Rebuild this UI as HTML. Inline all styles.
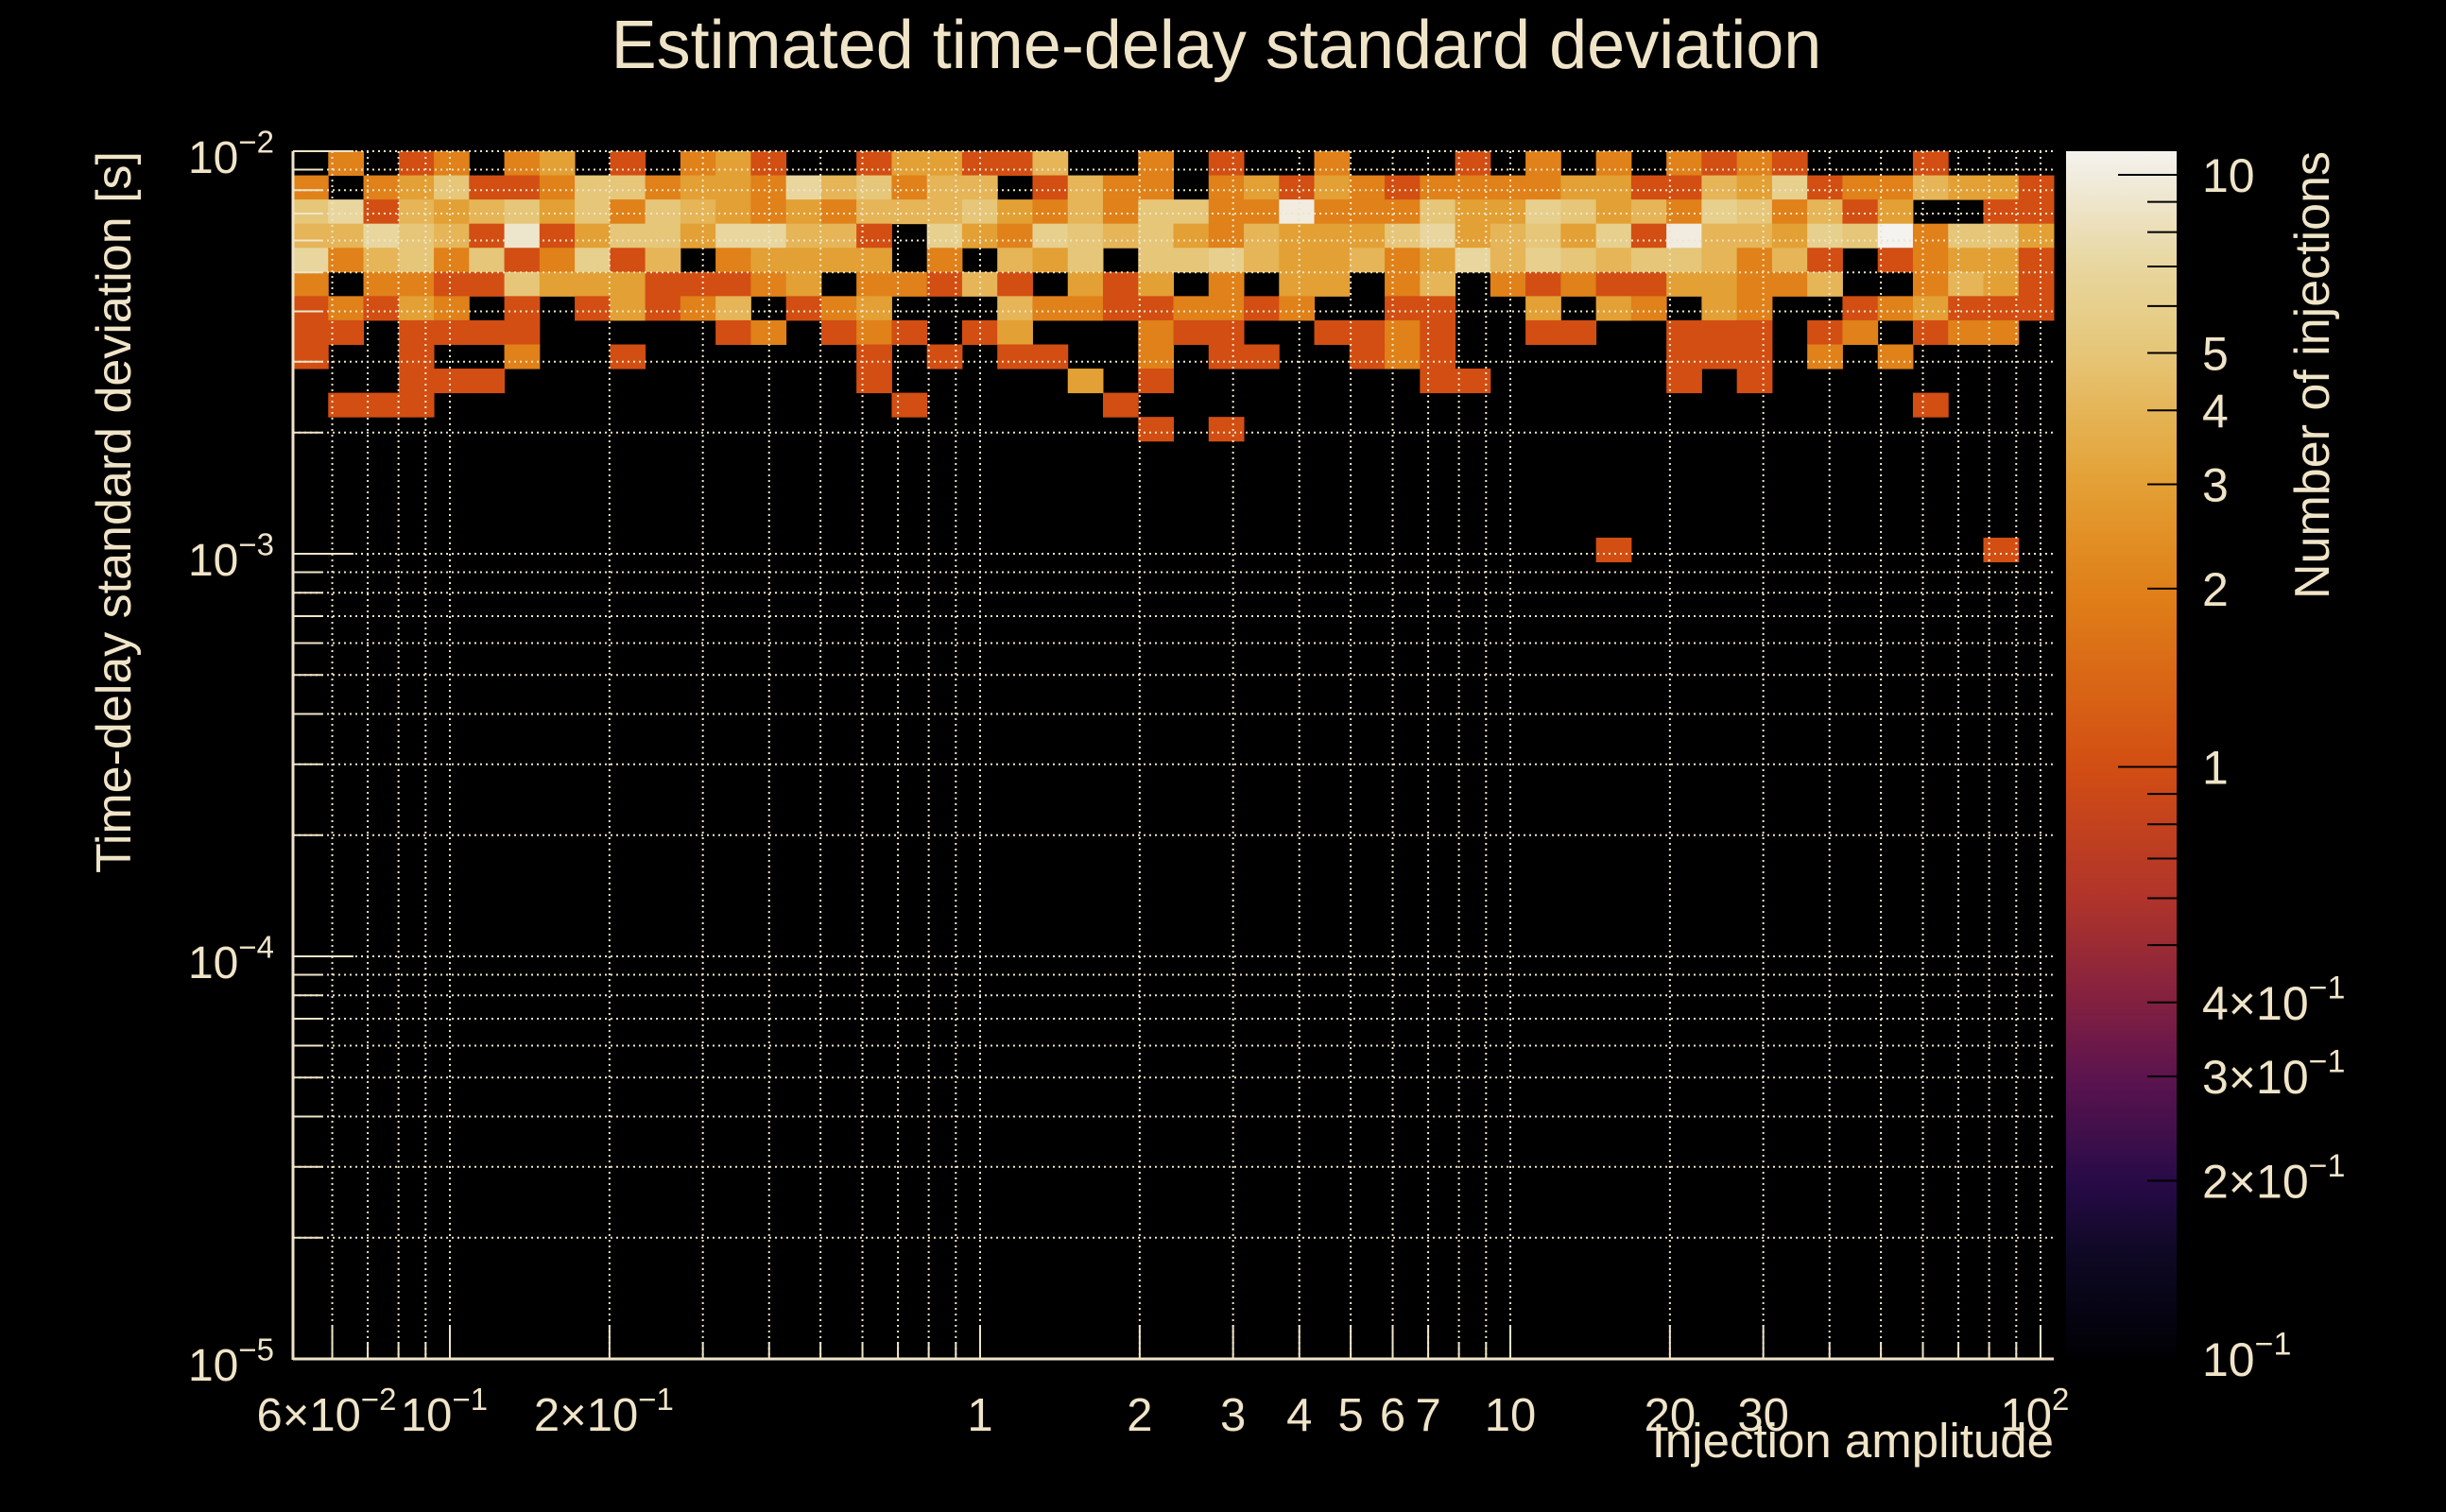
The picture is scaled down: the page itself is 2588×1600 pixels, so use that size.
<!DOCTYPE html>
<html>
<head>
<meta charset="utf-8">
<style>
  html,body{margin:0;padding:0;background:#000;}
  svg{display:block;}
  text{font-family:"Liberation Sans",sans-serif;fill:#f0e4c8;}
</style>
</head>
<body>
<svg id="chart" width="2588" height="1600" viewBox="0 0 2588 1600" xmlns="http://www.w3.org/2000/svg">
  <rect x="0" y="0" width="2588" height="1600" fill="#000"/>
  <defs>
    <linearGradient id="cbgrad" x1="0" y1="1" x2="0" y2="0"></linearGradient>
  </defs>
  <g id="cells"></g>
  <g id="grid"></g>
  <g id="axes"></g>
  <g id="colorbar"></g>
  <text x="1287" y="72" font-size="72" text-anchor="middle">Estimated time-delay standard deviation</text>
  <text transform="translate(138,160) rotate(-90)" font-size="52" text-anchor="end">Time-delay standard deviation [s]</text>
  <text x="2173" y="1542" font-size="51" text-anchor="end">Injection amplitude</text>
  <text transform="translate(2464,160) rotate(-90)" font-size="52" text-anchor="end">Number of injections</text>
</svg>
<script>
// ---- data ----
const nXBins = 50;
const nYBins = 50;
const xLogMin = -1.2959;
const xLogMax = 2.0250;
const yLogMin = -5;
const yLogMax = -2;
// counts per column (index = amplitude bin), listed from top row (row 0 = largest delay)
const col00=[0,2,5,4,7,2,1,1,1];
const col01=[2,0,7,4,2,0,2,1,0,0,1];
const col02=[0,2,1,7,4,2,1,0,0,0,1];
const col03=[1,3,4,5,5,2,3,1,1,1,1];
const col04=[2,5,3,4,2,1,2,1,0,1];
const col05=[0,1,4,1,5,1,0,1,0,1];
const col06=[2,1,5,9,1,5,1,1,2];
const col07=[3,2,3,1,2,3];
const col08=[0,5,5,3,6,3,1];
const col09=[1,5,2,5,1,3,3,0,1];
const col10=[0,2,5,5,4,1,1];
const col11=[2,3,4,3,0,1,2];
const col12=[3,3,3,7,2,1,4,1];
const col13=[1,2,2,7,3,2,0,2];
const col14=[0,7,3,4,3,3,1];
const col15=[0,4,2,4,3,0,2,1];
const col16=[1,5,4,1,3,2,3,2,1,1];
const col17=[3,2,4,0,0,2,0,1,0,0,1];
const col18=[3,4,4,6,2,1,0,0,1];
const col19=[1,4,5,3,0,4,0,1];
const col20=[1,0,3,2,4,1,4,3,1];
const col21=[4,1,2,6,3,0,2,0,1];
const col22=[0,4,4,5,5,3,2,0,0,3];
const col23=[0,2,2,4,0,1,1,0,0,0,1];
const col24=[2,2,5,5,5,3,1,2,2,1,0,1];
const col25=[0,0,5,3,5,0,2,1];
const col26=[1,2,2,2,6,2,2,1,1,0,0,1];
const col27=[0,3,2,4,4,0,1,0,1];
const col28=[0,1,10,3,3,3,2];
const col29=[2,3,2,3,3,3,0,1];
const col30=[0,2,2,3,4,0,0,1,1];
const col31=[0,1,2,5,2,2,1,2,2];
const col32=[0,2,5,7,3,4,1,1,1,1];
const col33=[1,2,3,3,7,0,0,0,0,1];
const col34=[0,2,3,4,4,2];
const col35=[2,2,6,5,6,1,3,1];
const col36=[0,3,5,3,5,2,0,1];
const col37=[2,3,3,6,4,1,3,0,0,0,0,0,0,0,0,0,1];
const col38=[0,1,4,1,5,1,2];
const col39=[2,1,2,10,5,3,0,1,1,1];
const col40=[1,4,6,4,4,3,3,1,1];
const col41=[2,3,5,4,2,2,2,1,1,1];
const col42=[1,6,2,3,4,2];
const col43=[0,1,4,6,1,4,0,1,2];
const col44=[0,2,1,5,0,0,1,2];
const col45=[0,2,3,11,1,0,2,0,2];
const col46=[1,4,0,2,2,2,3,1,0,0,1];
const col47=[0,3,0,5,3,4,1,2];
const col48=[0,3,1,5,3,3,1,2,0,0,0,0,0,0,0,0,1];
const col49=[0,1,1,3,1,1,1];
const columns=[col00,col01,col02,col03,col04,col05,col06,col07,col08,col09,col10,col11,col12,col13,col14,col15,col16,col17,col18,col19,col20,col21,col22,col23,col24,col25,col26,col27,col28,col29,col30,col31,col32,col33,col34,col35,col36,col37,col38,col39,col40,col41,col42,col43,col44,col45,col46,col47,col48,col49];
const xTickValues=[0.06,0.1,0.2,1,2,3,4,5,6,7,10,20,30,100];
const xTickLabels=[["6×10","−2"],["10","−1"],["2×10","−1"],["1",""],["2",""],["3",""],["4",""],["5",""],["6",""],["7",""],["10",""],["20",""],["30",""],["10","2"]];
const yTickExps=[-2,-3,-4,-5];
const cbTickValues=[10,5,4,3,2,1,0.4,0.3,0.2,0.1];
const cbTickLabels=[["10",""],["5",""],["4",""],["3",""],["2",""],["1",""],["4×10","−1"],["3×10","−1"],["2×10","−1"],["10","−1"]];
const cbMin=0.1, cbMax=10.96;

// ---- geometry ----
const PL=310, PR=2173, PT=160, PB=1438;
const NS="http://www.w3.org/2000/svg";
function xPos(v){return PL+(Math.log10(v)-xLogMin)/(xLogMax-xLogMin)*(PR-PL);}
function yPos(v){return PB-(Math.log10(v)-yLogMin)/(yLogMax-yLogMin)*(PB-PT);}
const CB_L=2186, CB_R=2303;
function cbY(v){return PB-(Math.log10(v)-Math.log10(cbMin))/(Math.log10(cbMax)-Math.log10(cbMin))*(PB-PT);}

const stops=[[0.1,[0,0,4]],[0.15,[14,8,36]],[0.2,[40,11,72]],[0.3,[92,20,78]],[0.4,[130,32,64]],[0.6,[176,52,42]],[1,[210,78,19]],[2,[224,129,25]],[3,[227,160,52]],[4,[229,181,87]],[5,[230,198,120]],[7,[232,214,158]],[10,[241,236,223]],[11,[245,243,239]]];
function color(v){
  const lv=Math.log10(v);
  for(let i=0;i<stops.length-1;i++){
    const a=Math.log10(stops[i][0]), b=Math.log10(stops[i+1][0]);
    if(lv<=b||i===stops.length-2){
      let t=Math.max(0,Math.min(1,(lv-a)/(b-a)));
      const c=stops[i][1].map((x,k)=>Math.round(x+(stops[i+1][1][k]-x)*t));
      return "rgb("+c.join(",")+")";
    }
  }
}
function mk(tag,attrs,parent){const e=document.createElementNS(NS,tag);for(const k in attrs)e.setAttribute(k,attrs[k]);parent.appendChild(e);return e;}

// ---- cells ----
const cellsG=document.getElementById('cells');
const dxl=(xLogMax-xLogMin)/nXBins, dyl=(yLogMax-yLogMin)/nYBins;
columns.forEach((col,c)=>{
  col.forEach((v,r)=>{
    if(!v) return;
    const x0=xPos(Math.pow(10,xLogMin+c*dxl)), x1=xPos(Math.pow(10,xLogMin+(c+1)*dxl));
    const yTop=yPos(Math.pow(10,yLogMax-r*dyl)), yBot=yPos(Math.pow(10,yLogMax-(r+1)*dyl));
    const el=mk('rect',{x:x0.toFixed(2),y:yTop.toFixed(2),width:(x1-x0+0.5).toFixed(2),height:(yBot-yTop+0.5).toFixed(2),fill:color(v)},cellsG);
    
    
  });
});

// ---- grid & ticks ----
const gridG=document.getElementById('grid'), axG=document.getElementById('axes');
const cream="#f0e4c8";
const xGridVals=[];
for(let d=-2;d<=2;d++)for(let m=1;m<=9;m++){const v=m*Math.pow(10,d);if(Math.log10(v)>=xLogMin&&Math.log10(v)<=xLogMax)xGridVals.push(v);}
xGridVals.forEach(v=>{
  const x=xPos(v);
  const major=Math.abs(Math.log10(v)-Math.round(Math.log10(v)))<1e-9||xTickValues.includes(v);
  mk('line',{x1:x,y1:PT,x2:x,y2:PB,stroke:cream,'stroke-width':2,'stroke-dasharray':'2,4'},gridG);
  mk('line',{x1:x,y1:PB,x2:x,y2:PB-(major?36:18),stroke:cream,'stroke-width':2},axG);
});
for(let d=-5;d<=-2;d++)for(let m=1;m<=9;m++){
  const v=m*Math.pow(10,d); if(v>0.01+1e-12) continue;
  const y=yPos(v);
  mk('line',{x1:PL,y1:y,x2:PR,y2:y,stroke:cream,'stroke-width':2,'stroke-dasharray':'2,4'},gridG);
  mk('line',{x1:PL,y1:y,x2:PL+(m===1?64:32),y2:y,stroke:cream,'stroke-width':2},axG);
}
mk('line',{x1:PL,y1:PT,x2:PL,y2:PB+1,stroke:cream,'stroke-width':3},axG);
mk('line',{x1:PL,y1:PB,x2:PR,y2:PB,stroke:cream,'stroke-width':3},axG);

function supText(parent,x,y,anchor,main,sup,fs,name){
  const t=mk('text',{x:x,y:y,'font-size':fs,'text-anchor':anchor},parent);
  
  
  const a=document.createElementNS(NS,'tspan');a.textContent=main;t.appendChild(a);
  if(sup){const b=document.createElementNS(NS,'tspan');b.setAttribute('font-size',Math.round(fs*0.68));b.setAttribute('dy',-fs*0.45);b.textContent=sup;t.appendChild(b);}
  return t;
}
xTickValues.forEach((v,i)=>{
  const l=xTickLabels[i];
  supText(axG,xPos(v)+(l[1]?-6:0),1514,'middle',l[0],l[1],49,'x-tick-label');
});
yTickExps.forEach(e=>{
  supText(axG,290,yPos(Math.pow(10,e))+23,'end','10',"−"+(-e),48,'y-tick-label');
});

// ---- colorbar ----
const grad=document.getElementById('cbgrad');
for(let i=0;i<=60;i++){
  const lv=Math.log10(cbMin)+(Math.log10(cbMax)-Math.log10(cbMin))*i/60;
  mk('stop',{offset:(i/60).toFixed(4),'stop-color':color(Math.pow(10,lv))},grad);
}
const cbG=document.getElementById('colorbar');
const cbr=mk('rect',{x:CB_L,y:PT,width:CB_R-CB_L,height:PB-PT,fill:'url(#cbgrad)'},cbG);


for(let d=-1;d<=1;d++)for(let m=1;m<=9;m++){
  const v=m*Math.pow(10,d); if(v<cbMin-1e-9||v>cbMax) continue;
  const y=cbY(v);
  mk('line',{x1:CB_R,y1:y,x2:CB_R-(m===1?62:31),y2:y,stroke:'#000','stroke-width':2},cbG);
}
cbTickValues.forEach((v,i)=>{
  const l=cbTickLabels[i];
  supText(cbG,2330,cbY(v)+18,'start',l[0],l[1],50,'colorbar-tick-label');
});
</script>
</body>
</html>
